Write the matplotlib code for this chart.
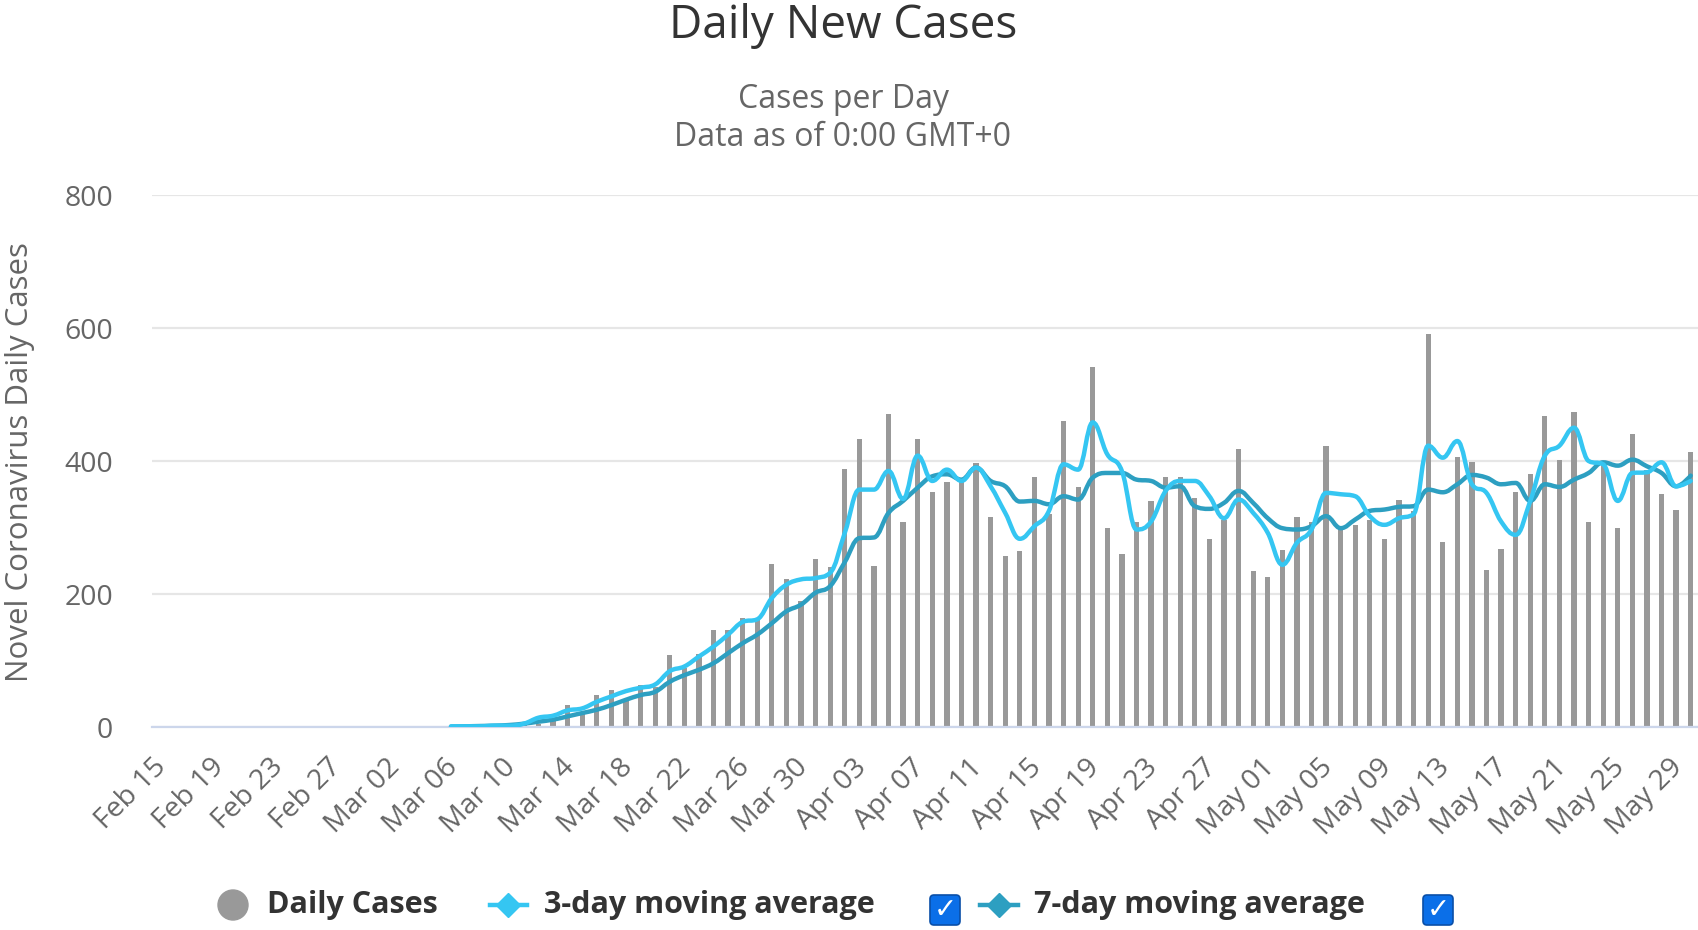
import numpy as np
import pandas as pd
import matplotlib
matplotlib.use('Agg')
import matplotlib.pyplot as plt
import matplotlib.transforms as mtransforms
from matplotlib.patches import FancyBboxPatch, Circle, PathPatch
from matplotlib.path import Path

plt.rcParams['font.family'] = ['Open Sans', 'DejaVu Sans']

# categories: one per day, Feb 15 - May 30 2020
dates = pd.date_range('2020-02-15', '2020-05-30', freq='D')
date_labels = [d.strftime('%b %d') for d in dates]

# daily cases, zero before Mar 06
daily_cases = [0] * 20 + [
    1, 1, 2, 1, 2, 3, 4, 9, 33, 20,
    48, 56, 40, 63, 60, 109, 88, 110, 146, 146,
    164, 162, 245, 222, 190, 252, 240, 388, 433, 242,
    470, 308, 433, 353, 368, 370, 397, 316, 257, 264,
    376, 320, 460, 361, 542, 300, 260, 308, 340, 376,
    376, 345, 283, 312, 418, 234, 225, 266, 316, 309,
    422, 302, 304, 312, 282, 342, 325, 591, 278, 406,
    398, 236, 267, 353, 381, 467, 402, 474, 309, 397,
    300, 441, 387, 351, 327, 414]

# moving averages start on Mar 06 (index 20)
avg_start = 20
ma3 = [
    1, 1, 1, 2, 2, 5, 14, 17, 25, 28,
    38, 46, 54, 59, 64, 84, 91, 106, 121, 139,
    158, 162, 194, 214, 222, 224, 232, 292, 357, 357,
    385, 343, 408, 370, 387, 370, 390, 362, 322, 283,
    302, 325, 395, 387, 458, 410, 385, 297, 309, 355,
    370, 370, 347, 314, 342, 322, 292, 244, 277, 297,
    352, 350, 347, 317, 304, 314, 320, 423, 405, 430,
    365, 352, 309, 289, 340, 408, 423, 450, 400, 395,
    340, 382, 383, 398, 362, 370]
ma7 = [
    0.5, 1, 1.5, 2, 3, 5, 8, 11, 16, 21,
    26, 33, 41, 48, 53, 68, 78, 86, 96, 111,
    126, 139, 156, 174, 184, 202, 212, 248, 284, 285,
    322, 340, 360, 377, 380, 372, 390, 370, 362, 339,
    340, 335, 347, 342, 375, 382, 382, 372, 370, 360,
    362, 332, 328, 337, 355, 337, 314, 299, 297, 302,
    317, 299, 312, 325, 327, 331, 332, 357, 353, 365,
    379, 375, 365, 367, 340, 365, 361, 372, 382, 398,
    393, 402, 392, 382, 362, 378]

yticks = [0, 200, 400, 600, 800]

bar_color = '#999999'
c3 = '#35c6f2'
c7 = '#2d9fc1'
text_gray = '#666666'


def spline_path(xs, ys, smoothing=1.5):
    # bezier path through the points, like a highcharts spline
    xs = list(map(float, xs))
    ys = list(map(float, ys))
    n = len(xs)
    verts = [(xs[0], ys[0])]
    codes = [Path.MOVETO]
    d = smoothing + 1
    left = [None] * n
    right = [None] * n
    for i in range(1, n - 1):
        lx = (smoothing * xs[i] + xs[i - 1]) / d
        ly = (smoothing * ys[i] + ys[i - 1]) / d
        rx = (smoothing * xs[i] + xs[i + 1]) / d
        ry = (smoothing * ys[i] + ys[i + 1]) / d
        corr = (ry - ly) * (rx - xs[i]) / (rx - lx) + ys[i] - ry
        ly += corr
        ry += corr
        if ly > ys[i - 1] and ly > ys[i]:
            ly = max(ys[i - 1], ys[i]); ry = 2 * ys[i] - ly
        elif ly < ys[i - 1] and ly < ys[i]:
            ly = min(ys[i - 1], ys[i]); ry = 2 * ys[i] - ly
        if ry > ys[i + 1] and ry > ys[i]:
            ry = max(ys[i + 1], ys[i]); ly = 2 * ys[i] - ry
        elif ry < ys[i + 1] and ry < ys[i]:
            ry = min(ys[i + 1], ys[i]); ly = 2 * ys[i] - ry
        left[i] = (lx, ly)
        right[i] = (rx, ry)
    for i in range(1, n):
        c1 = right[i - 1] if right[i - 1] is not None else (xs[i - 1], ys[i - 1])
        c2 = left[i] if left[i] is not None else (xs[i], ys[i])
        verts += [c1, c2, (xs[i], ys[i])]
        codes += [Path.CURVE4] * 3
    return Path(verts, codes)


W, H = 1698, 930
fig = plt.figure(figsize=(W / 100, H / 100), dpi=100)

ax = fig.add_axes([152 / W, 1 - 727 / H, 1 - 152 / W, (727 - 195) / H])
x = np.arange(len(dates))
xa = np.arange(avg_start, avg_start + len(ma3))

ax.bar(x, daily_cases, width=0.36, color=bar_color, zorder=2)
ax.add_patch(PathPatch(spline_path(xa, ma7), fc='none', ec=c7, lw=3.2, zorder=3,
                       joinstyle='round', capstyle='round'))
ax.add_patch(PathPatch(spline_path(xa, ma3), fc='none', ec=c3, lw=3.2, zorder=4,
                       joinstyle='round', capstyle='round'))

ax.set_xlim(-0.5, len(dates) - 0.5)
ax.set_ylim(0, 800)
ax.set_yticks(yticks)
ax.set_yticklabels([str(v) for v in yticks], fontsize=20.5, color=text_gray)
ax.grid(axis='y', color='#e6e6e6', lw=1.6, zorder=0)
ax.set_axisbelow(True)
for s in ['top', 'right', 'left']:
    ax.spines[s].set_visible(False)
ax.spines['bottom'].set_color('#ccd6eb')
ax.spines['bottom'].set_linewidth(1.6)
ax.tick_params(axis='y', length=0, pad=28)
ax.tick_params(axis='x', length=0, pad=19)

ticks = x[::4]
ax.set_xticks(ticks)
ax.set_xticklabels([date_labels[i] for i in ticks], rotation=45, ha='right',
                   va='top', rotation_mode='anchor', fontsize=20.5, color=text_gray)
shift = mtransforms.ScaledTranslation(-7 / 100, 0, fig.dpi_scale_trans)
for lab in ax.get_xticklabels():
    lab.set_transform(lab.get_transform() + shift)

fig.text(20 / W, 1 - 462 / H, 'Novel Coronavirus Daily Cases', rotation=90,
         ha='center', va='center', fontsize=22.5, color=text_gray)

fig.text(843 / W, 1 - 26 / H, 'Daily New Cases', ha='center', va='center',
         fontsize=33, color='#333333')
fig.text(843 / W, 1 - 100 / H, 'Cases per Day', ha='center', va='center',
         fontsize=23, color=text_gray)
fig.text(843 / W, 1 - 137 / H, 'Data as of 0:00 GMT+0', ha='center', va='center',
         fontsize=23, color=text_gray)

# legend drawn in pixel coordinates
lg = fig.add_axes([0, 0, 1, 1], zorder=5)
lg.set_xlim(0, W)
lg.set_ylim(H, 0)
lg.axis('off')
ly = 905
lg.add_patch(Circle((233, ly), 15, color=bar_color))
lg.text(267, ly, 'Daily Cases', va='center', fontsize=22, fontweight='bold', color='#333333')
lg.plot([490, 527], [ly, ly], color=c3, lw=3.2)
lg.plot([508], [ly], marker='D', ms=12, color=c3)
lg.text(544, ly, '3-day moving average', va='center', fontsize=22, fontweight='bold', color='#333333')
lg.plot([980, 1018], [ly, ly], color=c7, lw=3.2)
lg.plot([999], [ly], marker='D', ms=12, color=c7)
lg.text(1034, ly, '7-day moving average', va='center', fontsize=22, fontweight='bold', color='#333333')
for cx in [945, 1438]:
    lg.add_patch(FancyBboxPatch((cx - 15, ly - 10), 30, 30, boxstyle='round,pad=0,rounding_size=4',
                                fc='#0b6fe8', ec='#0a4fa8', lw=1.2))
    lg.text(cx, ly + 5, '\u2713', ha='center', va='center', fontsize=20,
            fontweight='bold', color='white', family='DejaVu Sans')

fig.savefig('out.png', dpi=100)
